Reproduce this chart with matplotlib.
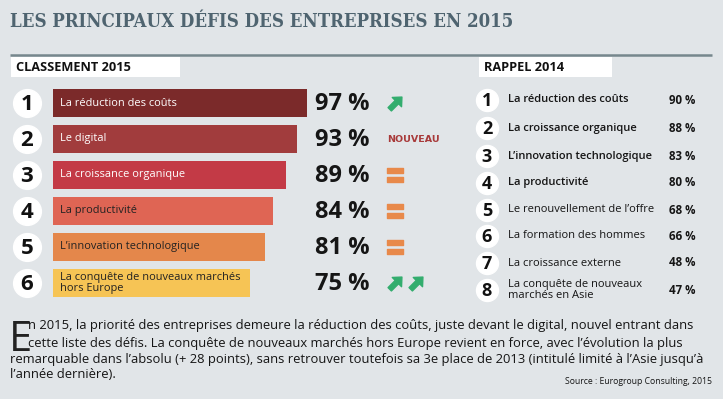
import matplotlib
matplotlib.use('Agg')
import matplotlib.pyplot as plt
from matplotlib.path import Path
from matplotlib.patches import Rectangle
import numpy as np

# data
ranks_2015 = [1, 2, 3, 4, 5, 6]
labels_2015 = ['La réduction des coûts', 'Le digital', 'La croissance organique',
               'La productivité', 'L\u2019innovation technologique',
               'La conquête de nouveaux marchés\nhors Europe']
values_2015 = [97, 93, 89, 84, 81, 75]
trend_2015 = ['up', 'new', 'eq', 'eq', 'eq', 'up2']

ranks_2014 = [1, 2, 3, 4, 5, 6, 7, 8]
labels_2014 = ['La réduction des coûts', 'La croissance organique',
               'L\u2019innovation technologique', 'La productivité',
               'Le renouvellement de l\u2019offre', 'La formation des hommes',
               'La croissance externe', 'La conquête de nouveaux\nmarchés en Asie']
values_2014 = [90, 88, 83, 80, 68, 66, 48, 47]

bar_colors = ['#7b2a2a', '#a13c3d', '#c33a46', '#df6554', '#e4874b', '#f6c455']
label_colors = ['white', 'white', 'white', '#222222', '#222222', '#222222']

BG = '#e1e5e8'
FONT = ['Open Sans', 'DejaVu Sans']

W, H = 723, 399
fig = plt.figure(figsize=(W / 100, H / 100), dpi=100, facecolor=BG)

# overlay in pixel coords for decorations
ov = fig.add_axes([0, 0, 1, 1])
ov.set_xlim(0, W)
ov.set_ylim(H, 0)
ov.axis('off')

ov.text(10, 22, 'LES PRINCIPAUX DÉFIS DES ENTREPRISES EN 2015', fontsize=13.3,
        family='DejaVu Serif', fontstretch='condensed', weight='bold',
        color='#4f6470', va='center', ha='left')
ov.plot([10, 712], [55, 55], color='#76878d', lw=1.8, solid_capstyle='butt')

ov.add_patch(Rectangle((11, 57), 169, 20, facecolor='white', edgecolor='none'))
ov.text(16, 67.5, 'CLASSEMENT 2015', fontsize=9.2, weight='bold', family=FONT,
        color='#111111', va='center')
ov.add_patch(Rectangle((479, 57), 133, 20, facecolor='white', edgecolor='none'))
ov.text(484, 67.5, 'RAPPEL 2014', fontsize=9.2, weight='bold', family=FONT,
        color='#111111', va='center')

# bar chart
ax = fig.add_axes([53 / W, 1 - 301 / H, 262 / W, 216 / H])
ax.set_xlim(0, 100)
ax.set_ylim(6.5, 0.5)
ax.axis('off')
ax.barh(ranks_2015, values_2015, height=0.78, color=bar_colors)

for r, lab, v, lc in zip(ranks_2015, labels_2015, values_2015, label_colors):
    ax.text(2.7, r, lab, fontsize=7.9, family=FONT, color=lc, va='center',
            linespacing=0.95)
    ax.text(100, r + 0.03, f'{v} %', fontsize=17, weight='bold', family=FONT,
            color='#151515', va='center', clip_on=False)

ax.scatter([-10] * len(ranks_2015), ranks_2015, s=400, color='white',
           clip_on=False, zorder=3)
for r in ranks_2015:
    ax.text(-10, r + 0.03, str(r), fontsize=16, weight='bold', family=FONT,
            color='#111111', ha='center', va='center', zorder=4)

# trend icons
tip = np.array([[0, 1], [0.72, 0.22], [0.26, 0.22], [0.26, -0.9], [-0.26, -0.9],
                [-0.26, 0.22], [-0.72, 0.22], [0, 1]])
ang = -np.pi / 4
rot = np.array([[np.cos(ang), -np.sin(ang)], [np.sin(ang), np.cos(ang)]])
arrow = Path(tip @ rot.T, closed=True)
eq_verts = [[-0.5, 0.095], [0.5, 0.095], [0.5, 0.405], [-0.5, 0.405], [-0.5, 0.095],
            [-0.5, -0.405], [0.5, -0.405], [0.5, -0.095], [-0.5, -0.095], [-0.5, -0.405]]
eq_codes = [Path.MOVETO, Path.LINETO, Path.LINETO, Path.LINETO, Path.CLOSEPOLY] * 2
equal = Path(eq_verts, eq_codes)

ix = 100 + (395 - 315) / 2.62
for r, t in zip(ranks_2015, trend_2015):
    if t == 'up':
        ax.scatter([ix], [r], marker=arrow, s=115, color='#33ad6e', clip_on=False)
    elif t == 'up2':
        ax.scatter([ix, ix + 8], [r, r], marker=arrow, s=115, color='#33ad6e',
                   clip_on=False)
    elif t == 'eq':
        ax.scatter([ix], [r], marker=equal, s=140, color='#e8894a', clip_on=False)
    else:
        ax.text(ix - 3, r, 'NOUVEAU', fontsize=6.8, weight='heavy',
                family='DejaVu Sans', color='#a83a3a', va='center', clip_on=False)

# rappel 2014
row_y = [100, 128, 156, 183, 210, 236, 263, 290]
for r, lab, v, y in zip(ranks_2014, labels_2014, values_2014, row_y):
    ov.scatter([487], [y], s=250, color='white', zorder=3)
    ov.text(487, y + 1, str(r), fontsize=13, weight='bold', family=FONT,
            color='#111111', ha='center', va='center', zorder=4)
    w = 'semibold' if r <= 4 else 'normal'
    ov.text(508, y, lab, fontsize=8.0, weight=w, family=FONT, color='#151515',
            va='center', linespacing=0.9)
    ov.text(669, y, f'{v} %', fontsize=8.3, weight='bold', family=FONT,
            color='#151515', va='center')

# paragraph
ov.text(9, 351, 'E', fontsize=30, family=FONT, color='#222222', va='baseline')
lines = [
    (28, 326, 'n 2015, la priorité des entreprises demeure la réduction des coûts, juste devant le digital, nouvel entrant dans'),
    (28, 343, 'cette liste des défis. La conquête de nouveaux marchés hors Europe revient en force, avec l\u2019évolution la plus'),
    (10, 359, 'remarquable dans l\u2019absolu (+ 28 points), sans retrouver toutefois sa 3e place de 2013 (intitulé limité à l\u2019Asie jusqu\u2019à'),
    (10, 375, 'l\u2019année dernière).'),
]
for x, y, s in lines:
    ov.text(x, y, s, fontsize=9.4, family=FONT, color='#151515', va='center')
ov.text(712, 381, 'Source : Eurogroup Consulting, 2015', fontsize=6.2, family=FONT,
        color='#151515', va='center', ha='right')

fig.savefig('out.png', dpi=100, facecolor=BG)
